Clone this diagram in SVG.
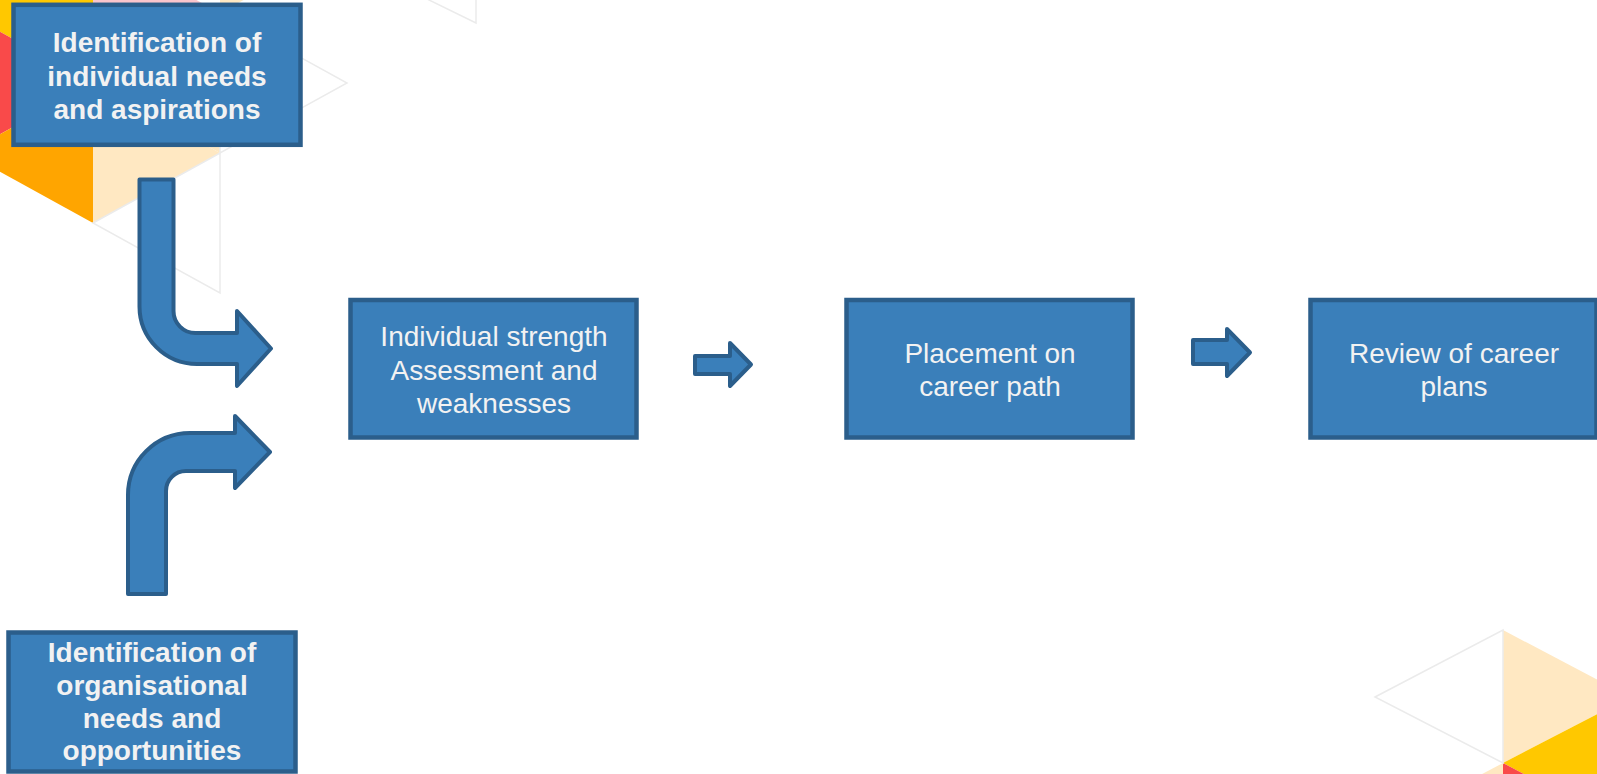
<svg xmlns="http://www.w3.org/2000/svg" width="1597" height="774" viewBox="0 0 1597 774">
  <style>
    .box { fill: #3A7FBA; stroke: #2B5E8B; stroke-width: 4.5; }
    .arrow { fill: #3A7FBA; stroke: #2B5E8B; stroke-width: 4; stroke-linejoin: round; }
    .tb { font-family: "Liberation Sans", Arial, sans-serif; font-size: 28px; font-weight: bold; fill: #F2F2F2; text-anchor: middle; }
    .tr { font-family: "Liberation Sans", Arial, sans-serif; font-size: 28px; fill: #F2F2F2; text-anchor: middle; }
    .gl { fill: none; stroke: #EBEBEB; stroke-width: 1.5; }
  </style>
  <rect width="1597" height="774" fill="#FFFFFF"/>

  <g id="decoration-top-left">
    <polygon points="-34,13 93,-57 93,83" fill="#FFC800"/>
    <polygon points="-40,-10 93,-57 -34,13" fill="#FFC800"/>
    <polygon points="-34,13 93,83 -34,153" fill="#F94A4A"/>
    <polygon points="-34,153 93,83 93,223" fill="#FFA500"/>
    <polygon points="93,83 220,153 93,223" fill="#FFE8C2"/>
    <polygon points="93,83 220,13 220,153" fill="#FFE8C2"/>
    <polygon points="93,-57 220,13 93,83" fill="#F9C5CC"/>
    <polygon points="220,13 347,-57 220,-127" fill="#FFE8C2"/>
    <polygon class="gl" points="93,223 220,153 220,293"/>
    <polygon class="gl" points="220,13 347,83 220,153"/>
    <polyline class="gl" points="425,-2 476,23 476,-2"/>
  </g>

  <g id="decoration-bottom-right">
    <polygon points="1503,630 1630,697 1503,763" fill="#FFE8C2"/>
    <polygon points="1503,763 1630,697 1630,830" fill="#FFC800"/>
    <polygon points="1503,763 1630,830 1503,897" fill="#F94A4A"/>
    <polygon points="1503,763 1376,830 1503,897" fill="#FFE8C2"/>
    <polygon class="gl" points="1375,697 1503,630 1503,763"/>
  </g>

  <g id="connectors">
    <path class="arrow" d="M139.5,179.5 H173.5 V311 A22,22 0 0 0 195.5,333 H237 V311 L271,348.5 L237,386 V364 H197 A57.5,57.5 0 0 1 139.5,306.5 Z"/>
    <path class="arrow" d="M128,594 V495 A62,62 0 0 1 190,433 H235 V416 L270,452 L235,488 V471 H186 A20,20 0 0 0 166,491 V594 Z"/>
    <path class="arrow" d="M695,356 H730 V343 L751,364.5 L730,386 V374 H695 Z"/>
    <path class="arrow" d="M1193,340 H1227 V329 L1250,352.5 L1227,376 V364 H1193 Z"/>
  </g>

  <g id="node-individual-needs">
    <rect class="box" x="13.5" y="4.8" width="287" height="140"/>
    <text class="tb" x="157" y="52">Identification of</text>
    <text class="tb" x="157" y="85.5">individual needs</text>
    <text class="tb" x="157" y="119">and aspirations</text>
  </g>

  <g id="node-organisational-needs">
    <rect class="box" x="8.5" y="632.5" width="287" height="139"/>
    <text class="tb" x="152" y="662">Identification of</text>
    <text class="tb" x="152" y="695">organisational</text>
    <text class="tb" x="152" y="728">needs and</text>
    <text class="tb" x="152" y="760">opportunities</text>
  </g>

  <g id="node-assessment">
    <rect class="box" x="350.5" y="300" width="286" height="137.5"/>
    <text class="tr" x="494" y="346">Individual strength</text>
    <text class="tr" x="494" y="379.5">Assessment and</text>
    <text class="tr" x="494" y="413">weaknesses</text>
  </g>

  <g id="node-placement">
    <rect class="box" x="846.5" y="300" width="286" height="137.5"/>
    <text class="tr" x="990" y="363">Placement on</text>
    <text class="tr" x="990" y="396">career path</text>
  </g>

  <g id="node-review">
    <rect class="box" x="1310.5" y="300" width="286" height="137.5"/>
    <text class="tr" x="1454" y="363">Review of career</text>
    <text class="tr" x="1454" y="396">plans</text>
  </g>
</svg>
